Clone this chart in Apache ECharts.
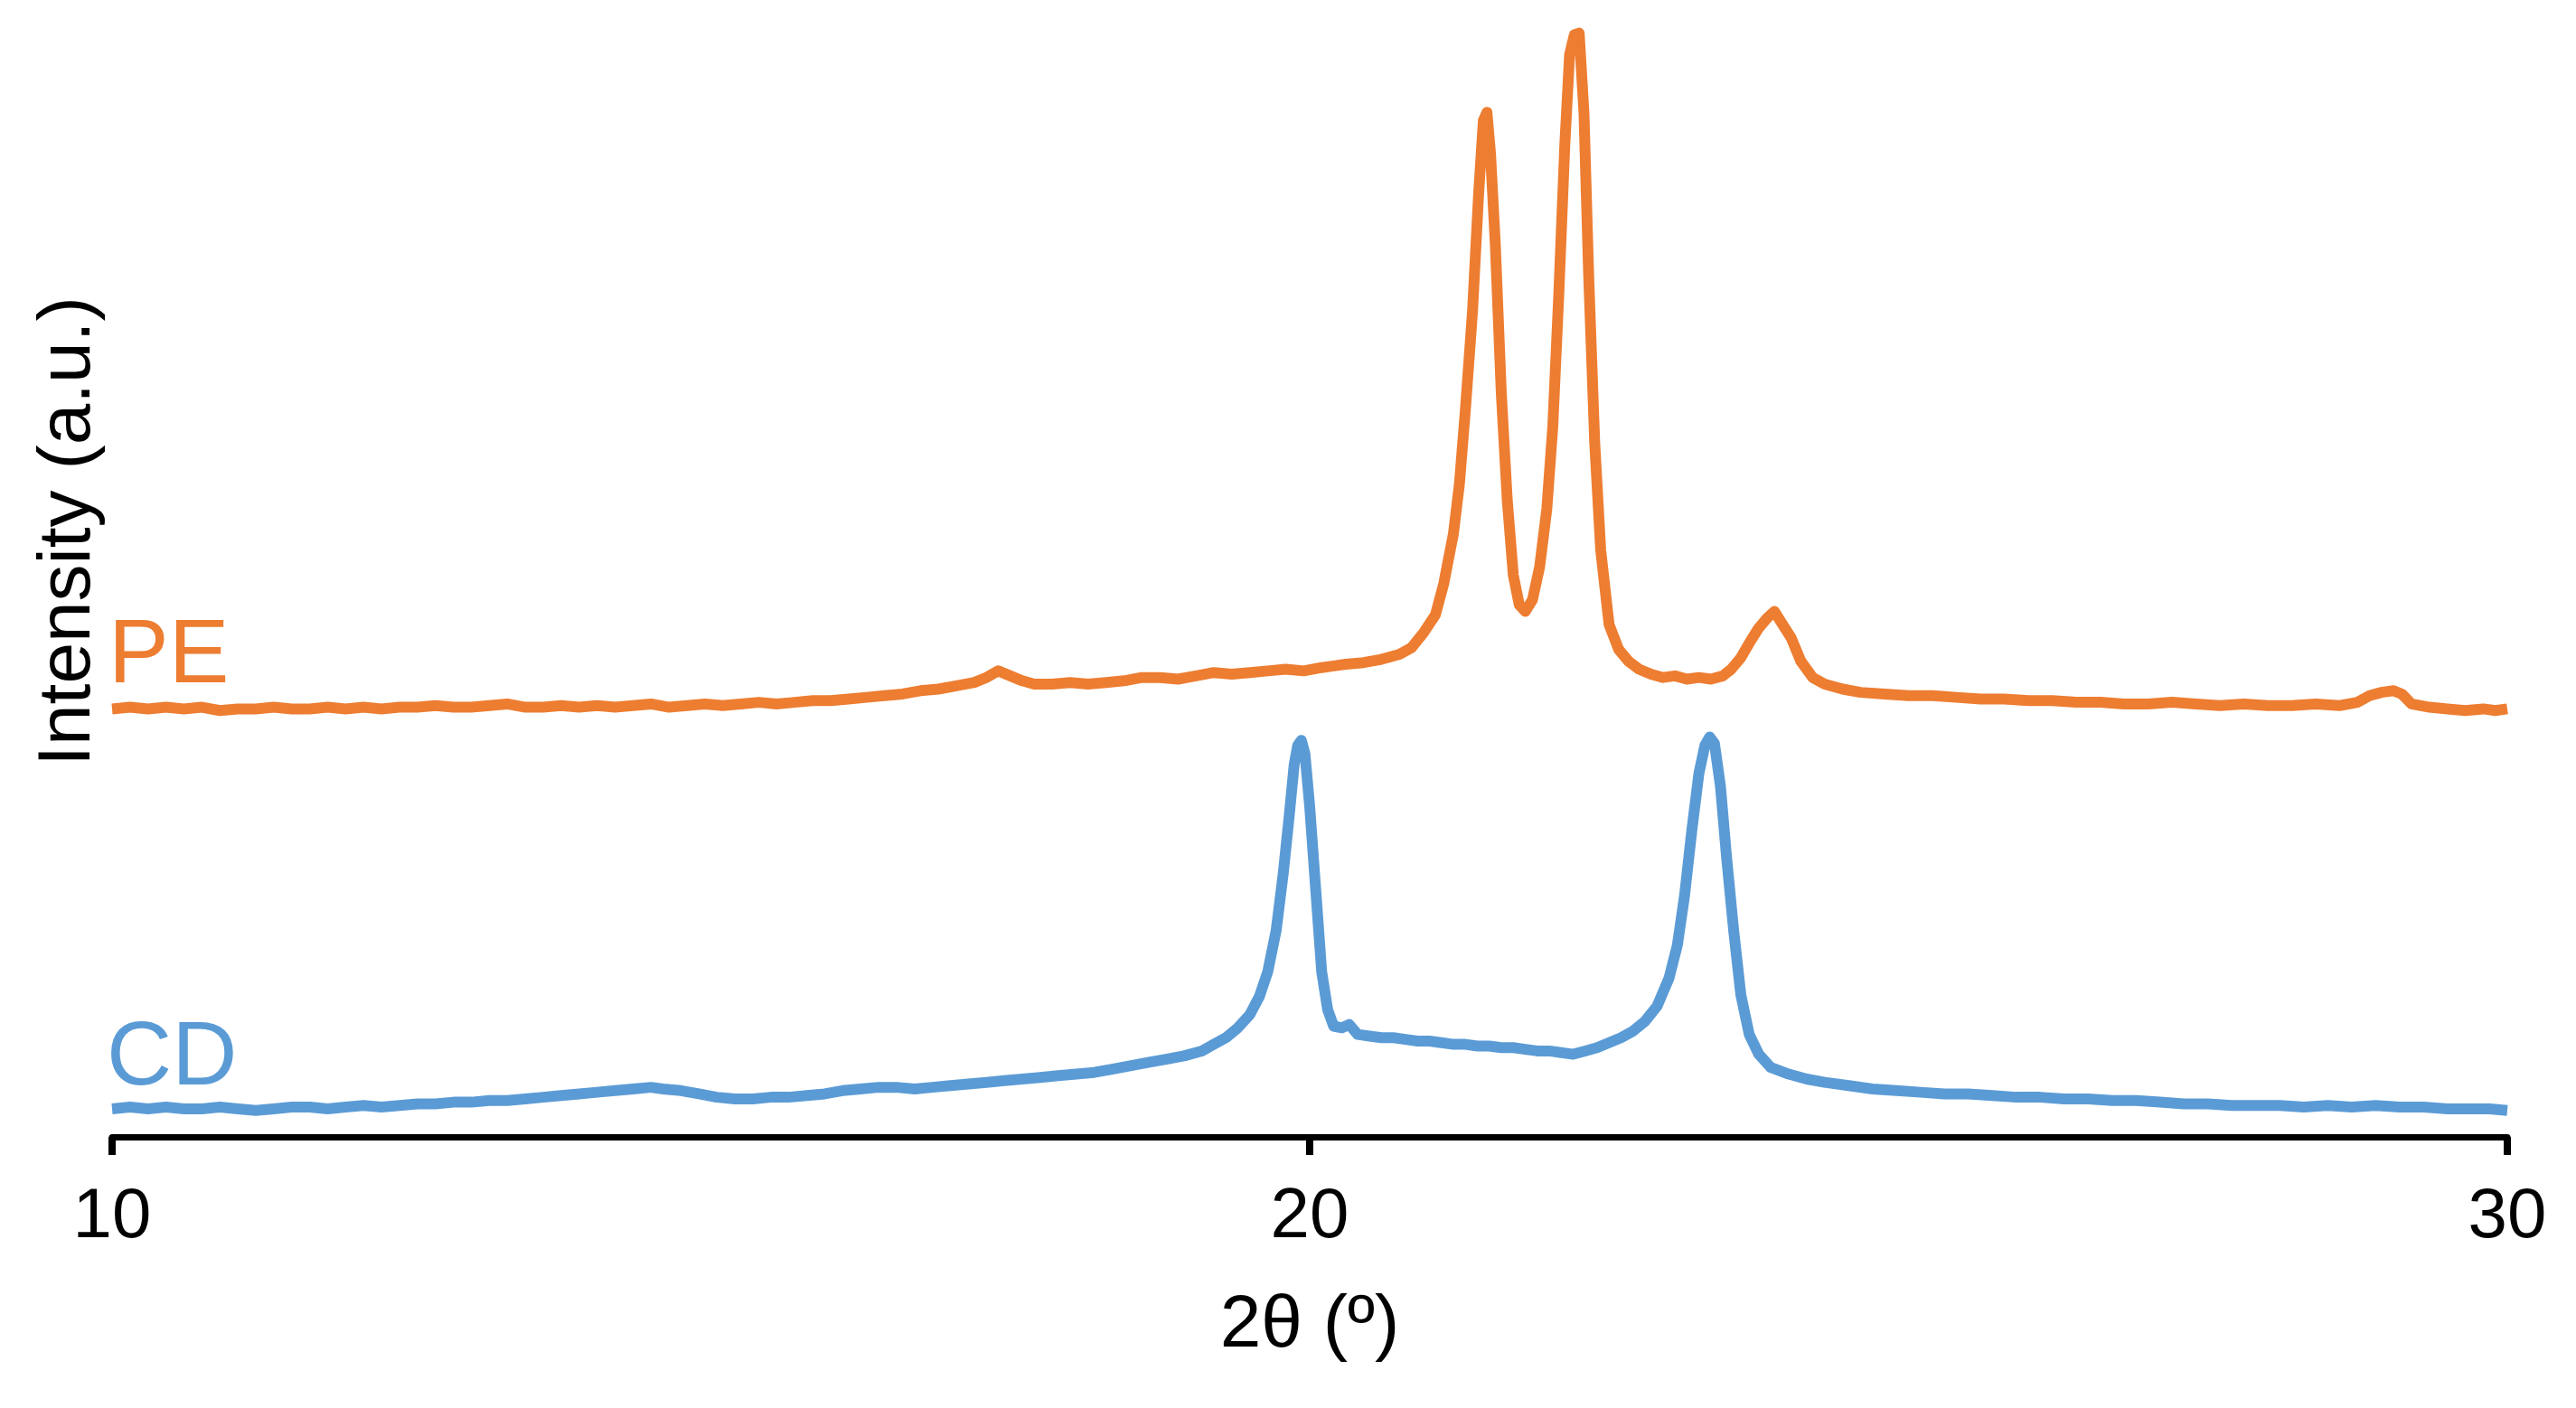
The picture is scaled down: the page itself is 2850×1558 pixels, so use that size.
<!DOCTYPE html>
<html>
  <head>
    <meta charset="utf-8" />
    <title>XRD</title>
    <script src="https://cdn.jsdelivr.net/npm/echarts@6/dist/echarts.min.js"></script>
    <style>
      html, body { margin: 0; padding: 0; background: #fff; }
      #chart { width: 2850px; height: 1558px; }
    </style>
  </head>
  <body>
    <div id="chart"></div>
    <script type="text/javascript">
      // 2θ (deg) and intensity (a.u.)
      var pePoints = [
        [10.0, 259], [10.15, 260], [10.3, 259], [10.45, 260], [10.6, 259], [10.75, 260],
        [10.9, 258], [11.05, 259], [11.2, 259], [11.35, 260], [11.5, 259], [11.65, 259],
        [11.8, 260], [11.95, 259], [12.1, 260], [12.25, 259], [12.4, 260], [12.55, 260],
        [12.7, 261], [12.85, 260], [13.0, 260], [13.15, 261], [13.3, 262], [13.45, 260],
        [13.6, 260], [13.75, 261], [13.9, 260], [14.05, 261], [14.2, 260], [14.35, 261],
        [14.5, 262], [14.65, 260], [14.8, 261], [14.95, 262], [15.1, 261], [15.25, 262],
        [15.4, 263], [15.55, 262], [15.7, 263], [15.85, 264], [16.0, 264], [16.15, 265],
        [16.3, 266], [16.45, 267], [16.6, 268], [16.75, 270], [16.9, 271], [17.05, 273],
        [17.2, 275], [17.3, 278], [17.4, 282], [17.5, 279], [17.6, 276], [17.7, 274],
        [17.85, 274], [18.0, 275], [18.15, 274], [18.3, 275], [18.45, 276], [18.6, 278],
        [18.75, 278], [18.9, 277], [19.05, 279], [19.2, 281], [19.35, 280], [19.5, 281],
        [19.65, 282], [19.8, 283], [19.95, 282], [20.1, 284], [20.2, 285], [20.3, 286],
        [20.45, 287], [20.6, 289], [20.75, 292], [20.85, 296], [20.95, 305], [21.05, 316],
        [21.12, 335], [21.2, 365], [21.25, 395], [21.3, 440], [21.36, 500], [21.41, 570],
        [21.45, 615], [21.48, 620], [21.51, 595], [21.55, 540], [21.6, 450], [21.65, 385],
        [21.7, 340], [21.75, 322], [21.8, 318], [21.86, 325], [21.92, 345], [21.98, 380],
        [22.03, 430], [22.08, 510], [22.13, 600], [22.17, 655], [22.21, 667], [22.25, 668],
        [22.29, 620], [22.33, 520], [22.38, 420], [22.43, 355], [22.5, 310], [22.58, 295],
        [22.66, 288], [22.75, 283], [22.85, 280], [22.95, 278], [23.05, 279], [23.15, 277],
        [23.25, 278], [23.35, 277], [23.45, 279], [23.52, 283], [23.6, 290], [23.68, 300],
        [23.75, 308], [23.82, 314], [23.88, 318], [23.95, 310], [24.02, 302], [24.1, 288],
        [24.2, 278], [24.3, 274], [24.45, 271], [24.6, 269], [24.8, 268], [25.0, 267],
        [25.2, 267], [25.4, 266], [25.6, 265], [25.8, 265], [26.0, 264], [26.2, 264],
        [26.4, 263], [26.6, 263], [26.8, 262], [27.0, 262], [27.2, 263], [27.4, 262],
        [27.6, 261], [27.8, 262], [28.0, 261], [28.2, 261], [28.4, 262], [28.6, 261],
        [28.75, 263], [28.85, 267], [28.95, 269], [29.05, 270], [29.12, 268], [29.2, 262],
        [29.35, 260], [29.5, 259], [29.65, 258], [29.8, 259], [29.9, 258], [30.0, 259]
      ];
      var cdPoints = [
        [10.0, 17], [10.15, 18], [10.3, 17], [10.45, 18], [10.6, 17], [10.75, 17],
        [10.9, 18], [11.05, 17], [11.2, 16], [11.35, 17], [11.5, 18], [11.65, 18],
        [11.8, 17], [11.95, 18], [12.1, 19], [12.25, 18], [12.4, 19], [12.55, 20],
        [12.7, 20], [12.85, 21], [13.0, 21], [13.15, 22], [13.3, 22], [13.45, 23],
        [13.6, 24], [13.75, 25], [13.9, 26], [14.05, 27], [14.2, 28], [14.35, 29],
        [14.5, 30], [14.6, 29], [14.75, 28], [14.9, 26], [15.05, 24], [15.2, 23],
        [15.35, 23], [15.5, 24], [15.65, 24], [15.8, 25], [15.95, 26], [16.1, 28],
        [16.25, 29], [16.4, 30], [16.55, 30], [16.7, 29], [16.85, 30], [17.0, 31],
        [17.15, 32], [17.3, 33], [17.45, 34], [17.6, 35], [17.75, 36], [17.9, 37],
        [18.05, 38], [18.2, 39], [18.35, 41], [18.5, 43], [18.65, 45], [18.8, 47],
        [18.95, 49], [19.1, 52], [19.2, 56], [19.3, 60], [19.4, 66], [19.5, 74],
        [19.58, 85], [19.65, 100], [19.72, 125], [19.78, 160], [19.83, 195], [19.87, 225],
        [19.9, 237], [19.93, 240], [19.96, 232], [20.0, 200], [20.05, 150], [20.1, 100],
        [20.15, 77], [20.2, 67], [20.27, 66], [20.33, 68], [20.4, 62], [20.5, 61],
        [20.6, 60], [20.7, 60], [20.8, 59], [20.9, 58], [21.0, 58], [21.1, 57],
        [21.2, 56], [21.3, 56], [21.4, 55], [21.5, 55], [21.6, 54], [21.7, 54],
        [21.8, 53], [21.9, 52], [22.0, 52], [22.1, 51], [22.2, 50], [22.3, 52],
        [22.4, 54], [22.5, 57], [22.6, 60], [22.7, 64], [22.8, 70], [22.9, 79],
        [23.0, 96], [23.07, 116], [23.13, 146], [23.19, 185], [23.25, 220], [23.3, 237],
        [23.34, 242], [23.38, 238], [23.43, 212], [23.48, 170], [23.54, 125], [23.6, 86],
        [23.67, 62], [23.75, 50], [23.85, 42], [24.0, 38], [24.15, 35], [24.3, 33],
        [24.5, 31], [24.7, 29], [24.9, 28], [25.1, 27], [25.3, 26], [25.5, 26],
        [25.7, 25], [25.9, 24], [26.1, 24], [26.3, 23], [26.5, 23], [26.7, 22],
        [26.9, 22], [27.1, 21], [27.3, 20], [27.5, 20], [27.7, 19], [27.9, 19],
        [28.1, 19], [28.3, 18], [28.5, 19], [28.7, 18], [28.9, 19], [29.1, 18],
        [29.3, 18], [29.5, 17], [29.7, 17], [29.85, 17], [30.0, 16]
      ];
      var xTicks = { min: 10, max: 30, interval: 10 };
      var seriesNames = ["PE", "CD"];

      var peColor = "#ED7D31";
      var cdColor = "#5B9BD5";
      var fontName = "Liberation Sans, Arial, sans-serif";

      var myChart = echarts.init(document.getElementById("chart"));
      var option = {
        animation: false,
        backgroundColor: "#ffffff",
        grid: { left: 124, right: 76, top: 0, bottom: 300 },
        xAxis: {
          type: "value",
          min: xTicks.min,
          max: xTicks.max,
          interval: xTicks.interval,
          name: "2θ (º)",
          nameLocation: "middle",
          nameGap: 168,
          nameTextStyle: { color: "#000", fontSize: 82, fontFamily: fontName },
          axisLine: { show: true, lineStyle: { color: "#000", width: 7 } },
          axisTick: { show: true, inside: false, length: 20, lineStyle: { color: "#000", width: 8 } },
          axisLabel: { color: "#000", fontSize: 78, fontFamily: fontName, margin: 50 },
          splitLine: { show: false },
        },
        yAxis: {
          type: "value",
          min: 0,
          max: 688,
          show: false,
          splitLine: { show: false },
        },
        graphic: [
          {
            type: "text",
            x: 76,
            y: 588,
            rotation: Math.PI / 2,
            style: {
              text: "Intensity (a.u.)",
              fill: "#000",
              font: "82px " + fontName,
              textAlign: "center",
              textVerticalAlign: "middle",
            },
          },
          {
            type: "text",
            x: 120,
            y: 727,
            style: {
              text: seriesNames[0],
              fill: peColor,
              font: "100px " + fontName,
              textAlign: "left",
              textVerticalAlign: "middle",
            },
          },
          {
            type: "text",
            x: 118,
            y: 1172,
            style: {
              text: seriesNames[1],
              fill: cdColor,
              font: "100px " + fontName,
              textAlign: "left",
              textVerticalAlign: "middle",
            },
          },
        ],
        series: [
          {
            name: seriesNames[0],
            type: "line",
            data: pePoints,
            showSymbol: false,
            smooth: false,
            lineStyle: { color: peColor, width: 12, join: "round", cap: "butt" },
          },
          {
            name: seriesNames[1],
            type: "line",
            data: cdPoints,
            showSymbol: false,
            smooth: false,
            lineStyle: { color: cdColor, width: 12, join: "round", cap: "butt" },
          },
        ],
      };
      myChart.setOption(option);
    </script>
  </body>
</html>
